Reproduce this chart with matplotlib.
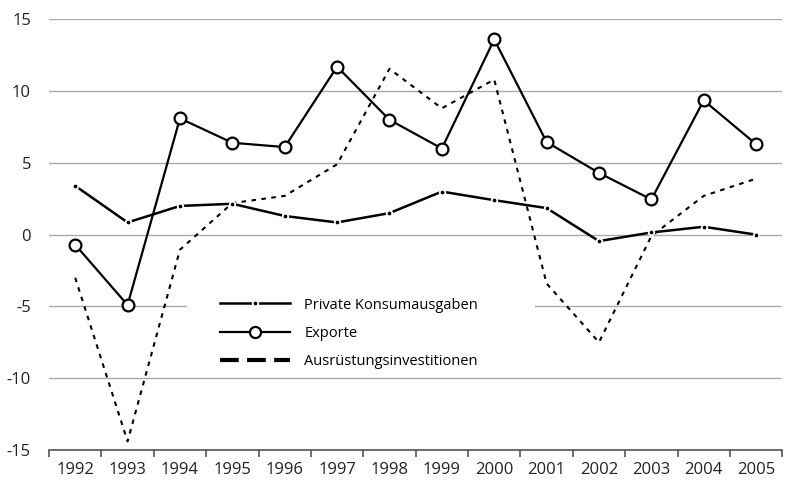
import matplotlib
matplotlib.use("Agg")
import matplotlib.pyplot as plt
from matplotlib.lines import Line2D
from matplotlib.patches import Rectangle
import numpy as np

# data (%)
years = ["1992", "1993", "1994", "1995", "1996", "1997", "1998",
         "1999", "2000", "2001", "2002", "2003", "2004", "2005"]
konsum = [3.4, 0.85, 2.0, 2.15, 1.3, 0.85, 1.5, 3.0, 2.4, 1.85, -0.45, 0.15, 0.55, 0.0]
exporte = [-0.7, -4.9, 8.1, 6.4, 6.1, 11.7, 8.0, 6.0, 13.6, 6.45, 4.3, 2.45, 9.35, 6.3]
ausruestung = [-3.0, -14.4, -1.05, 2.2, 2.7, 4.9, 11.55, 8.8, 10.8, -3.4, -7.5, -0.1, 2.7, 3.9]
labels = ["Private Konsumausgaben", "Exporte", "Ausrüstungsinvestitionen"]

plt.rcParams['font.family'] = ['Open Sans', 'DejaVu Sans']
plt.rcParams['axes.unicode_minus'] = False

fig = plt.figure(figsize=(7.92, 4.82), dpi=100)
ax = fig.add_axes([49 / 792, 1 - 450 / 482, (782.3 - 49) / 792, (450 - 19.3) / 482])

x = np.arange(len(years))

# Ausrüstungsinvestitionen: thin short dashes
ax.plot(x, ausruestung, color='black', lw=1.5, dashes=(2.2, 2.6), zorder=3)

# Private Konsumausgaben: solid with small dots at the data points
ax.plot(x, konsum, color='black', lw=1.8, marker='o', markersize=4,
        markerfacecolor='black', markeredgecolor='white',
        markeredgewidth=1.3, zorder=4)

# Exporte: solid with open circles
ax.plot(x, exporte, color='black', lw=1.6, marker='o', markersize=8.5,
        markerfacecolor='white', markeredgecolor='black',
        markeredgewidth=1.6, zorder=5)

ax.set_xlim(-0.5, len(years) - 0.5)
ax.set_ylim(-15, 15)
ax.set_yticks([-15, -10, -5, 0, 5, 10, 15])
ax.set_xticks(x)
ax.set_xticklabels(years)
ax.set_xticks(np.arange(-0.5, len(years)), minor=True)

for s in ['top', 'right', 'left']:
    ax.spines[s].set_visible(False)
ax.spines['bottom'].set_color('#555555')
ax.spines['bottom'].set_linewidth(1.2)

ax.yaxis.grid(True, color='#aaaaaa', lw=1.0)
ax.set_axisbelow(True)
ax.tick_params(axis='y', length=0, pad=13, labelsize=12, labelcolor='#222222')
ax.tick_params(axis='x', which='major', length=0, pad=9, labelsize=12, labelcolor='#222222')
ax.tick_params(axis='x', which='minor', length=5, width=1.2, color='#555555')

# white area behind the legend (hides the gridline there)
ax.add_patch(Rectangle((0.188, 0.181), 0.475, 0.195, transform=ax.transAxes,
                       facecolor='white', edgecolor='none', zorder=1.5))

handles = [
    Line2D([], [], color='black', lw=1.8, marker='o', markersize=4,
           markerfacecolor='black', markeredgecolor='white', markeredgewidth=1.3),
    Line2D([], [], color='black', lw=1.6, marker='o', markersize=8,
           markerfacecolor='white', markeredgecolor='black', markeredgewidth=1.6),
    Line2D([], [], color='black', lw=3.0, dashes=(4.5, 2.0)),
]
leg = ax.legend(handles, labels, loc='upper left', bbox_to_anchor=(0.233, 0.354),
                frameon=False, handlelength=4.8, handletextpad=1.0,
                labelspacing=0.9, borderpad=0, borderaxespad=0, fontsize=10.5)
leg.set_zorder(6)

fig.savefig("out.png", dpi=100)
